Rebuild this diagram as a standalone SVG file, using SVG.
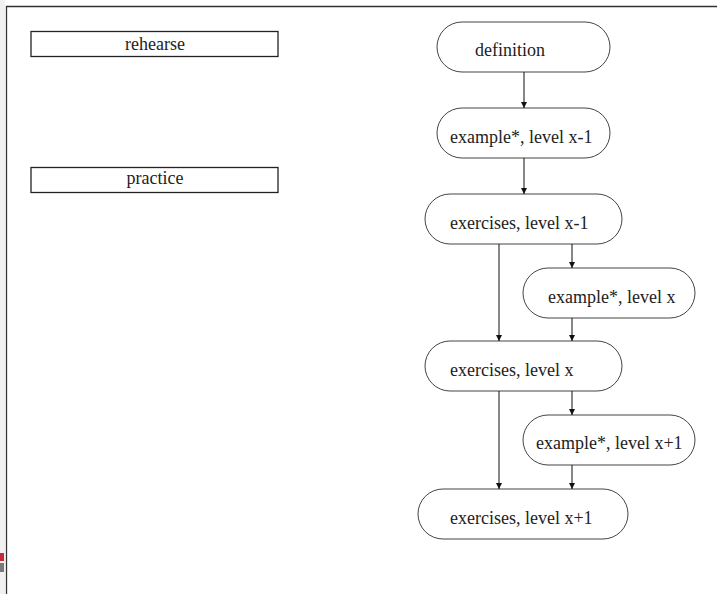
<svg xmlns="http://www.w3.org/2000/svg" width="717" height="594" viewBox="0 0 717 594">
  <style>
    .lbl { font-family: "Liberation Serif", "DejaVu Serif", serif; font-size: 18px; fill: #222; }
    .box { fill: #fff; stroke: #222; stroke-width: 1.3; }
    .term { fill: #fff; stroke: #444; stroke-width: 1; }
    .edge { stroke: #111; stroke-width: 1; fill: none; marker-end: url(#arrow); }
  </style>
  <defs>
    <marker id="arrow" viewBox="0 0 6 8" refX="6" refY="4" markerWidth="6" markerHeight="8" markerUnits="userSpaceOnUse" orient="auto">
      <path d="M0,1 L6,4 L0,7 Z" fill="#111"/>
    </marker>
  </defs>

  <rect width="717" height="594" fill="#fff"/>
  <!-- margin strip at the left edge -->
  <rect x="0" y="0" width="5" height="594" fill="#f1f1f1"/>
  <rect x="0" y="553" width="4" height="8" fill="#c8283a"/>
  <rect x="0" y="563" width="4" height="9" fill="#7a7a7a"/>
  <!-- page frame -->
  <path d="M6.5,594 V6.5 H717" fill="none" stroke="#333" stroke-width="1.3"/>

  <g id="rehearse">
    <rect class="box" x="31" y="31.5" width="247" height="25"/>
    <text class="lbl" x="155" y="50" text-anchor="middle">rehearse</text>
  </g>
  <g id="practice">
    <rect class="box" x="31" y="167.5" width="247" height="25"/>
    <text class="lbl" x="155" y="184" text-anchor="middle">practice</text>
  </g>

  <g id="definition">
    <rect class="term" x="437" y="22" width="173" height="50" rx="25"/>
    <text class="lbl" x="475" y="56">definition</text>
  </g>
  <g id="example-x-1">
    <rect class="term" x="437" y="108" width="173" height="50" rx="25"/>
    <text class="lbl" x="450" y="143">example*, level x-1</text>
  </g>
  <g id="exercises-x-1">
    <rect class="term" x="425" y="194" width="197" height="50" rx="25"/>
    <text class="lbl" x="450" y="229">exercises, level x-1</text>
  </g>
  <g id="example-x">
    <rect class="term" x="523" y="268" width="172" height="50" rx="25"/>
    <text class="lbl" x="548" y="303">example*, level x</text>
  </g>
  <g id="exercises-x">
    <rect class="term" x="425" y="341" width="197" height="50" rx="25"/>
    <text class="lbl" x="450" y="376">exercises, level x</text>
  </g>
  <g id="example-x1">
    <rect class="term" x="523" y="415" width="172" height="50" rx="25"/>
    <text class="lbl" x="536" y="449">example*, level x+1</text>
  </g>
  <g id="exercises-x1">
    <rect class="term" x="418" y="489" width="210" height="50" rx="25"/>
    <text class="lbl" x="450" y="524">exercises, level x+1</text>
  </g>

  <g id="connectors">
    <line class="edge" x1="524" y1="72" x2="524" y2="108"/>
    <line class="edge" x1="524" y1="158" x2="524" y2="194"/>
    <line class="edge" x1="499" y1="244" x2="499" y2="341"/>
    <line class="edge" x1="572" y1="244" x2="572" y2="268"/>
    <line class="edge" x1="572" y1="318" x2="572" y2="341"/>
    <line class="edge" x1="499" y1="391" x2="499" y2="489"/>
    <line class="edge" x1="572" y1="391" x2="572" y2="415"/>
    <line class="edge" x1="572" y1="465" x2="572" y2="489"/>
  </g>
</svg>
